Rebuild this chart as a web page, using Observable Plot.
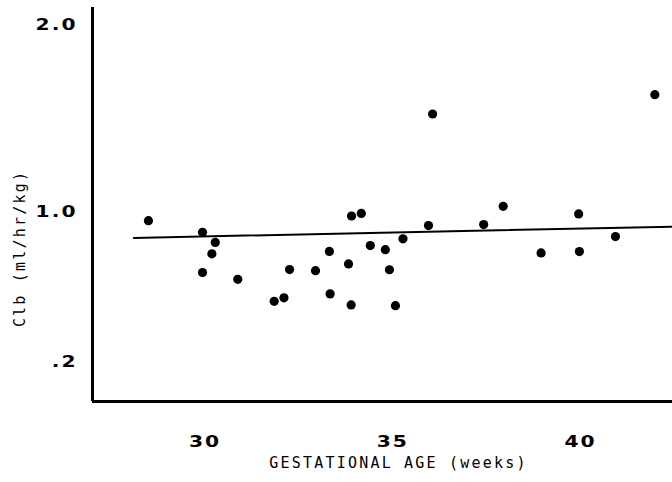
<!DOCTYPE html>
<html>
<head>
<meta charset="utf-8">
<script src="https://cdn.jsdelivr.net/npm/d3@7"></script>
<script src="https://cdn.jsdelivr.net/npm/@observablehq/plot@0.6"></script>
<style>
  html, body { margin: 0; padding: 0; background: #fff; }
  #chart svg { display: block; background: #fff; }
</style>
</head>
<body>
<div id="chart"></div>
<script>
// Gestational age (weeks) and Clb (ml/hr/kg)
const ages = [28.49, 29.93, 30.27, 30.18, 29.93, 30.87, 31.84, 32.10, 32.25, 32.94,
              33.31, 33.33, 33.82, 33.90, 34.16, 33.89, 34.40, 34.80, 34.91, 35.07,
              35.27, 35.95, 36.06, 37.42, 37.94, 38.95, 39.95, 39.97, 40.93, 41.98];
const clb  = [0.957, 0.895, 0.841, 0.780, 0.680, 0.644, 0.526, 0.545, 0.696, 0.690,
              0.793, 0.566, 0.726, 0.982, 0.996, 0.507, 0.824, 0.802, 0.695, 0.503,
              0.860, 0.931, 1.527, 0.936, 1.034, 0.785, 0.993, 0.792, 0.872, 1.630];
// Regression line end points
const fitAges = [28.1, 42.45];
const fitClb  = [0.865, 0.925];
// Tick labels
const xTicks = [30, 35, 40];
const xTickLabels = ["30", "35", "40"];
const yTicks = [0.2, 1.0, 2.0];
const yTickLabels = [".2", "1.0", "2.0"];
const xTitle = "GESTATIONAL AGE (weeks)";
const yTitle = "Clb (ml/hr/kg)";

const points = ages.map((a, i) => ({age: a, clb: clb[i]}));
const fit = fitAges.map((a, i) => ({age: a, clb: fitClb[i]}));

const xDomain = [27, 42.45];
const yDomain = [-0.009, 2.096];

const tickFont = {fontFamily: "DejaVu Sans", fontWeight: "bold", fontSize: 15};
const titleFont = {fontFamily: "DejaVu Sans Mono", fontSize: 15};

const svg = Plot.plot({
  width: 672,
  height: 482,
  marginLeft: 92,
  marginRight: 0,
  marginTop: 7,
  marginBottom: 81,
  x: {domain: xDomain, axis: null},
  y: {domain: yDomain, axis: null},
  marks: [
    Plot.ruleX([xDomain[0]], {stroke: "black", strokeWidth: 3}),
    Plot.ruleY([yDomain[0]], {stroke: "black", strokeWidth: 3}),
    Plot.line(fit, {x: "age", y: "clb", stroke: "black", strokeWidth: 2}),
    Plot.dot(points, {x: "age", y: "clb", r: 4.6, fill: "black", stroke: "none"}),
    Plot.axisY({ticks: yTicks, tickFormat: d => yTickLabels[yTicks.indexOf(d)],
      tickSize: 0, tickPadding: 15, label: null, ...tickFont}),
    Plot.axisX({ticks: xTicks, tickFormat: d => xTickLabels[xTicks.indexOf(d)],
      tickSize: 0, tickPadding: 35, label: null, ...tickFont}),
    Plot.text([xTitle], {text: d => d, frameAnchor: "bottom", textAnchor: "middle",
      dx: 16, dy: 66, fill: "black", ...titleFont}),
    Plot.text([yTitle], {text: d => d, frameAnchor: "left", textAnchor: "middle",
      rotate: -90, dx: -72, dy: 44, fill: "black", ...titleFont})
  ]
});

d3.select(svg).selectAll("text").each(function() {
  const t = this.textContent;
  if (xTickLabels.includes(t) || yTickLabels.includes(t)) {
    this.setAttribute("letter-spacing", "1.5px");
    this.style.letterSpacing = "1.5px";
    const tr = this.getAttribute("transform");
    if (tr && /translate/.test(tr)) {
      this.setAttribute("transform", tr + " scale(1.35,1)");
    } else {
      const x = +this.getAttribute("x") || 0, y = +this.getAttribute("y") || 0;
      this.removeAttribute("x"); this.removeAttribute("y");
      this.setAttribute("transform", `translate(${x},${y}) scale(1.35,1)` + (tr ? " " + tr : ""));
    }
  } else if (t === xTitle || t === yTitle) {
    this.setAttribute("letter-spacing", "2.2px");
    this.style.letterSpacing = "2.2px";
  }
});

document.getElementById("chart").appendChild(svg);
</script>
</body>
</html>
